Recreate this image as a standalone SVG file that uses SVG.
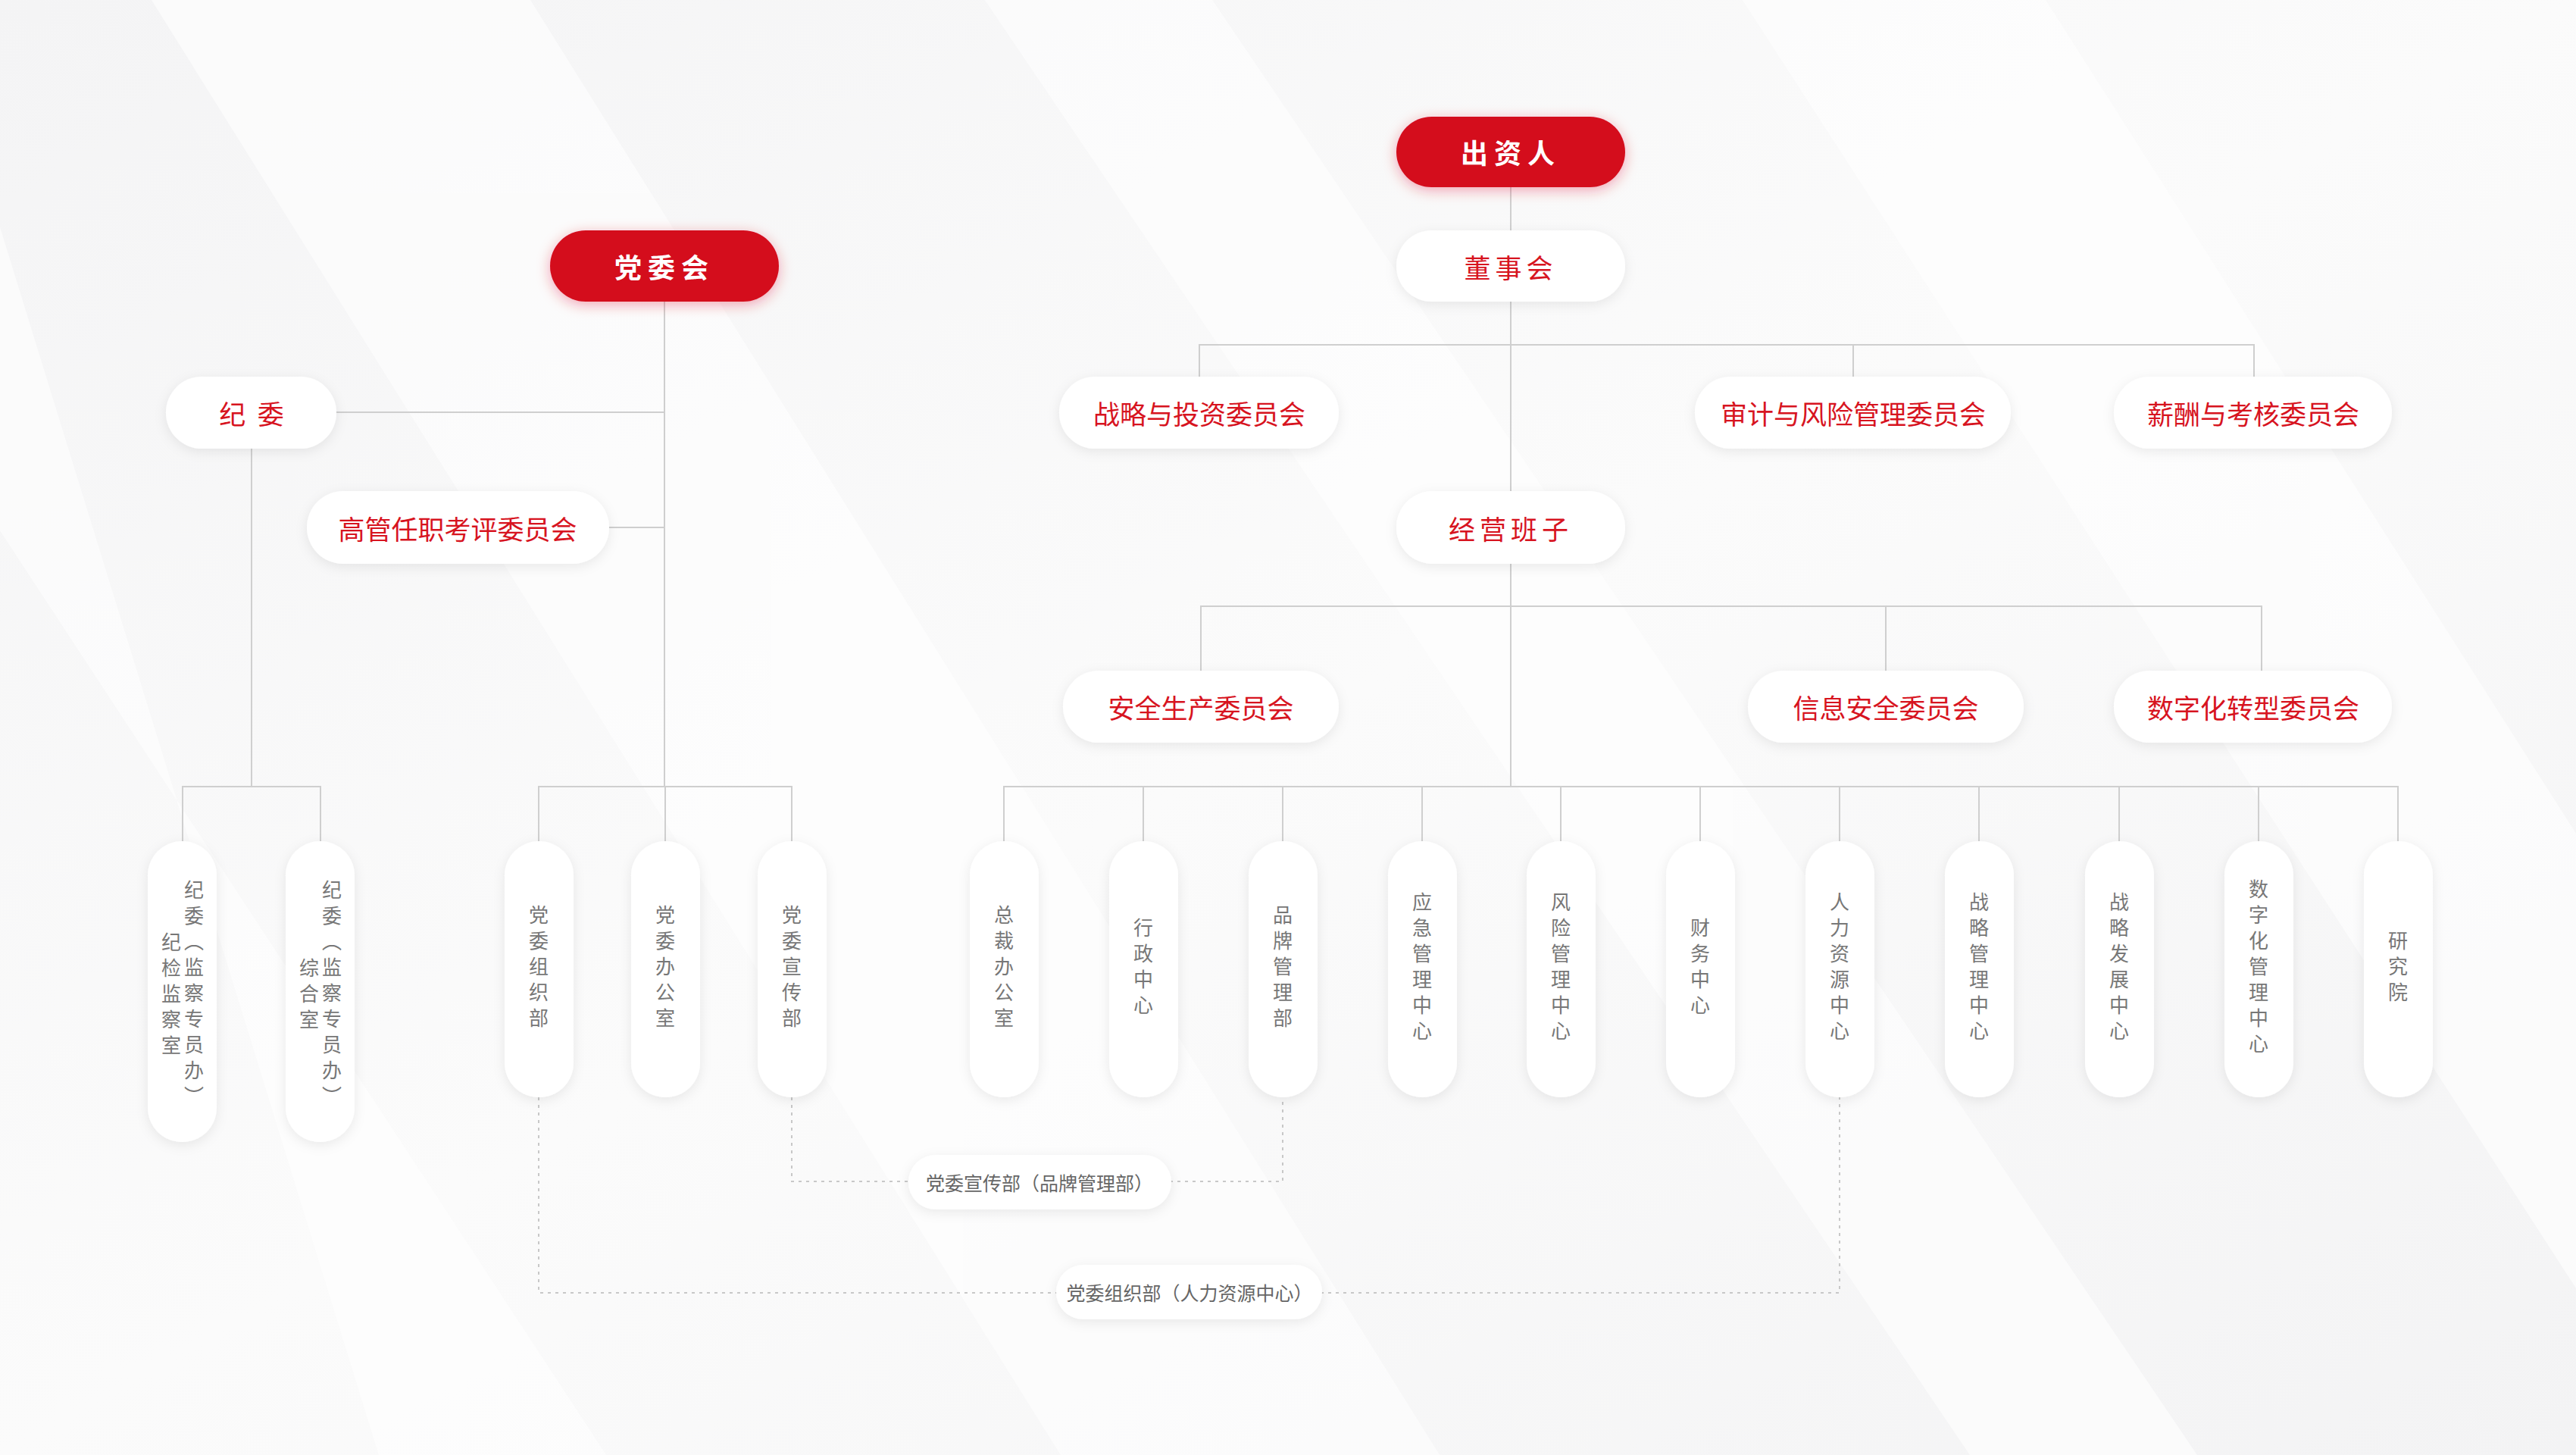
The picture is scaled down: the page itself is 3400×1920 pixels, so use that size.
<svg xmlns="http://www.w3.org/2000/svg" width="3400" height="1920" viewBox="0 0 3400 1920">
<defs>
<linearGradient id="bg" x1="0" y1="0" x2="1" y2="1">
<stop offset="0" stop-color="#f4f4f5"/><stop offset="0.5" stop-color="#fbfbfb"/><stop offset="1" stop-color="#f3f3f4"/>
</linearGradient>
<filter id="sh" x="-20%" y="-40%" width="140%" height="180%"><feDropShadow dx="0" dy="4" stdDeviation="8" flood-color="#000" flood-opacity="0.08"/></filter>
<filter id="rsh" x="-20%" y="-40%" width="140%" height="180%"><feDropShadow dx="0" dy="4" stdDeviation="9" flood-color="#e0102a" flood-opacity="0.35"/></filter>
</defs>
<style>
.w{fill:#fff;filter:url(#sh)}
.r{fill:#d40a1e;filter:url(#rsh)}
.t{font-family:"Noto Sans CJK SC","Noto Sans",sans-serif;font-size:35px;fill:#d7141f;text-anchor:middle;dominant-baseline:central}
.tw{font-family:"Noto Sans CJK SC","Noto Sans",sans-serif;font-size:36px;font-weight:bold;fill:#fff;text-anchor:middle;dominant-baseline:central;letter-spacing:8px}
.v{font-family:"Noto Sans CJK SC","Noto Sans",sans-serif;font-size:26px;fill:#777;writing-mode:vertical-rl;letter-spacing:8px;text-anchor:middle}
.vs{font-family:"Noto Sans CJK SC","Noto Sans",sans-serif;font-size:26px;fill:#777;writing-mode:vertical-rl;letter-spacing:8px;text-anchor:start}
.s{font-family:"Noto Sans CJK SC","Noto Sans",sans-serif;font-size:25px;fill:#666;text-anchor:middle;dominant-baseline:central}
.l{stroke:#cfcfcf;stroke-width:2;fill:none}
.d{stroke:#c8c8c8;stroke-width:2;fill:none;stroke-dasharray:4 6}
</style>
<rect width="3400" height="1920" fill="url(#bg)"/>
<g opacity="0.6" fill="#fff">
<path d="M200 0 L700 0 L1900 1920 L1400 1920Z"/>
<path d="M1300 0 L1600 0 L2900 1920 L2600 1920Z"/>
<path d="M2300 0 L2700 0 L3400 1100 L3400 1700Z"/>
<path d="M0 300 L0 700 L800 1920 L500 1920Z"/>
</g>
<g id="connectors">
<path class="l" d="M1994 247V1038"/>
<path class="l" d="M1583 497V455H2975V497M2446 455V497"/>
<path class="l" d="M1585 885V800H2985V885M2489 800V885"/>
<path class="l" d="M1325 1110V1038H3165V1110M1509 1038V1110M1693 1038V1110M1877 1038V1110M2060 1038V1110M2244 1038V1110M2428 1038V1110M2612 1038V1110M2797 1038V1110M2981 1038V1110"/>
<path class="l" d="M877 398V1038M444 544H877M804 696H877"/>
<path class="l" d="M711 1110V1038H1045V1110M878 1038V1110"/>
<path class="l" d="M332 592V1038M241 1110V1038H423V1110"/>
<path class="d" d="M1045 1448V1559H1693V1448"/>
<path class="d" d="M711 1448V1706H2428V1448"/>
</g>
<g id="n-czr"><rect class="r" x="1843" y="154" width="302" height="93" rx="46.5"/><text class="tw" x="1994" y="200">出资人</text></g>
<g id="n-dsh"><rect class="w" x="1843" y="304" width="302" height="94" rx="47"/><text class="t" x="1994" y="351" letter-spacing="6">董事会</text></g>
<g id="n-dwh"><rect class="r" x="726" y="304" width="302" height="94" rx="47"/><text class="tw" x="877" y="351">党委会</text></g>
<g id="n-jw"><rect class="w" x="219" y="497" width="225" height="95" rx="47.5"/><text class="t" x="332" y="544" xml:space="preserve">纪  委</text></g>
<g id="n-gg"><rect class="w" x="405" y="648" width="399" height="96" rx="48"/><text class="t" x="604" y="696">高管任职考评委员会</text></g>
<g id="n-zl"><rect class="w" x="1398" y="497" width="369" height="95" rx="47.5"/><text class="t" x="1583" y="544">战略与投资委员会</text></g>
<g id="n-sj"><rect class="w" x="2237" y="497" width="417" height="95" rx="47.5"/><text class="t" x="2446" y="544">审计与风险管理委员会</text></g>
<g id="n-xc"><rect class="w" x="2790" y="497" width="367" height="95" rx="47.5"/><text class="t" x="2974" y="544">薪酬与考核委员会</text></g>
<g id="n-jy"><rect class="w" x="1843" y="648" width="302" height="96" rx="48"/><text class="t" x="1994" y="696" letter-spacing="6">经营班子</text></g>
<g id="n-aq"><rect class="w" x="1403" y="885" width="364" height="95" rx="47.5"/><text class="t" x="1585" y="932">安全生产委员会</text></g>
<g id="n-xx"><rect class="w" x="2307" y="885" width="364" height="95" rx="47.5"/><text class="t" x="2489" y="932">信息安全委员会</text></g>
<g id="n-sz"><rect class="w" x="2790" y="885" width="367" height="95" rx="47.5"/><text class="t" x="2974" y="932">数字化转型委员会</text></g>
<g id="v-jw1"><rect class="w" x="195" y="1110" width="91" height="397" rx="45.5"/><text class="vs" x="256" y="1161">纪委（监察专员办）</text><text class="vs" x="226" y="1230">纪检监察室</text></g>
<g id="v-jw2"><rect class="w" x="377" y="1110" width="91" height="397" rx="45.5"/><text class="vs" x="438" y="1161">纪委（监察专员办）</text><text class="vs" x="408" y="1264">综合室</text></g>
<g id="v-dzz"><rect class="w" x="666" y="1110" width="91" height="338" rx="45.5"/><text class="v" x="711" y="1279">党委组织部</text></g>
<g id="v-dbg"><rect class="w" x="833" y="1110" width="91" height="338" rx="45.5"/><text class="v" x="878" y="1279">党委办公室</text></g>
<g id="v-dxc"><rect class="w" x="1000" y="1110" width="91" height="338" rx="45.5"/><text class="v" x="1045" y="1279">党委宣传部</text></g>
<g id="v-1"><rect class="w" x="1280" y="1110" width="91" height="338" rx="45.5"/><text class="v" x="1325" y="1279">总裁办公室</text></g>
<g id="v-2"><rect class="w" x="1464" y="1110" width="91" height="338" rx="45.5"/><text class="v" x="1509" y="1279">行政中心</text></g>
<g id="v-3"><rect class="w" x="1648" y="1110" width="91" height="338" rx="45.5"/><text class="v" x="1693" y="1279">品牌管理部</text></g>
<g id="v-4"><rect class="w" x="1832" y="1110" width="91" height="338" rx="45.5"/><text class="v" x="1877" y="1279">应急管理中心</text></g>
<g id="v-5"><rect class="w" x="2015" y="1110" width="91" height="338" rx="45.5"/><text class="v" x="2060" y="1279">风险管理中心</text></g>
<g id="v-6"><rect class="w" x="2199" y="1110" width="91" height="338" rx="45.5"/><text class="v" x="2244" y="1279">财务中心</text></g>
<g id="v-7"><rect class="w" x="2383" y="1110" width="91" height="338" rx="45.5"/><text class="v" x="2428" y="1279">人力资源中心</text></g>
<g id="v-8"><rect class="w" x="2567" y="1110" width="91" height="338" rx="45.5"/><text class="v" x="2612" y="1279">战略管理中心</text></g>
<g id="v-9"><rect class="w" x="2752" y="1110" width="91" height="338" rx="45.5"/><text class="v" x="2797" y="1279">战略发展中心</text></g>
<g id="v-10"><rect class="w" x="2936" y="1110" width="91" height="338" rx="45.5"/><text class="v" x="2981" y="1279">数字化管理中心</text></g>
<g id="v-11"><rect class="w" x="3120" y="1110" width="91" height="338" rx="45.5"/><text class="v" x="3165" y="1279">研究院</text></g>
<g id="lb-1"><rect class="w" x="1199" y="1524" width="347" height="72" rx="36"/><text class="s" x="1372" y="1560">党委宣传部（品牌管理部）</text></g>
<g id="lb-2"><rect class="w" x="1394" y="1669" width="351" height="72" rx="36"/><text class="s" x="1570" y="1705">党委组织部（人力资源中心）</text></g>
</svg>
